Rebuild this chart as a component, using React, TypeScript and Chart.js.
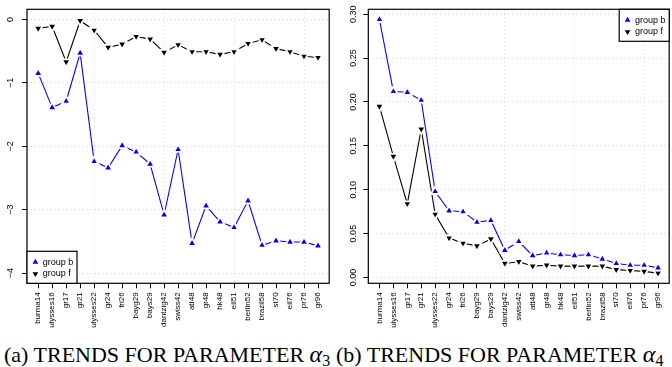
import React, { useEffect, useRef } from 'react';
import { Chart, registerables } from 'chart.js';

Chart.register(...registerables);

// ---------- data ----------
const categories = [
  'burma14', 'ulysses16', 'gr17', 'gr21', 'ulysses22', 'gr24', 'fri26', 'bayg29', 'bays29',
  'dantzig42', 'swiss42', 'att48', 'gr48', 'hk48', 'eil51', 'berlin52', 'brazil58', 'st70',
  'eil76', 'pr76', 'gr96',
];

const seriesNames = ['group b', 'group f'];

const alpha3GroupB = [
  -0.85, -1.39, -1.29, -0.53, -2.24, -2.34, -1.99, -2.09, -2.28, -3.08, -2.05,
  -3.53, -2.94, -3.19, -3.28, -2.86, -3.56, -3.49, -3.51, -3.51, -3.57,
];
const alpha3GroupF = [
  -0.14, -0.11, -0.67, -0.02, -0.17, -0.44, -0.39, -0.27, -0.31, -0.52, -0.40,
  -0.51, -0.51, -0.55, -0.51, -0.38, -0.32, -0.46, -0.51, -0.58, -0.60,
];

const alpha4GroupB = [
  0.294, 0.212, 0.211, 0.202, 0.098, 0.076, 0.075, 0.063, 0.065, 0.031, 0.041,
  0.025, 0.028, 0.026, 0.025, 0.026, 0.021, 0.016, 0.014, 0.014, 0.011,
];
const alpha4GroupF = [
  0.195, 0.138, 0.084, 0.169, 0.072, 0.045, 0.039, 0.036, 0.044, 0.016, 0.018,
  0.013, 0.014, 0.013, 0.013, 0.013, 0.013, 0.009, 0.008, 0.007, 0.005,
];

const alpha3TickValues = [-4, -3, -2, -1, 0];
const alpha3TickLabels = ['\u22124', '\u22123', '\u22122', '\u22121', '0'];
const alpha4TickValues = [0, 0.05, 0.1, 0.15, 0.2, 0.25, 0.3];
const alpha4TickLabels = ['0.00', '0.05', '0.10', '0.15', '0.20', '0.25', '0.30'];

const xGridIndices = [4, 9, 14, 19];

const alpha3Range = [-4.16, 0.16];
const alpha4Range = [-0.0066, 0.3056];
const xRange = [-0.8, 20.8];

// ---------- styles ----------
const SANS = "'Liberation Sans', Arial, sans-serif";
const SERIF = "'Liberation Serif', 'Times New Roman', serif";
const BLUE = '#0000ff';
const BLACK = '#000000';
const GRID = '#d3d3d3';
const CANVAS_H = 335;
const PLOT_TOP = 9.3;
const PLOT_BOTTOM = 283.3;

function triangle(ctx: CanvasRenderingContext2D, cx: number, cy: number, r: number, down: boolean) {
  const s = down ? -1 : 1;
  ctx.beginPath();
  ctx.moveTo(cx, cy - s * r);
  ctx.lineTo(cx + r * Math.sin(Math.PI / 3), cy + s * r * 0.5);
  ctx.lineTo(cx - r * Math.sin(Math.PI / 3), cy + s * r * 0.5);
  ctx.closePath();
  ctx.fill();
}

const boxPlugin = {
  id: 'plotBox',
  afterDraw(chart: any) {
    const { ctx, chartArea: a } = chart;
    ctx.save();
    ctx.strokeStyle = BLACK;
    ctx.lineWidth = 1.2;
    ctx.strokeRect(a.left, a.top, a.right - a.left, a.bottom - a.top);
    ctx.restore();
  },
};

function makeLegendPlugin(corner: 'bottomleft' | 'topright') {
  return {
    id: 'boxLegend',
    afterDraw(chart: any) {
      const { ctx, chartArea: a } = chart;
      const w = 50;
      const h = 32;
      const x0 = corner === 'bottomleft' ? a.left : a.right - w;
      const y0 = corner === 'bottomleft' ? a.bottom - h : a.top;
      ctx.save();
      ctx.fillStyle = '#ffffff';
      ctx.fillRect(x0, y0, w, h);
      ctx.strokeStyle = BLACK;
      ctx.lineWidth = 1.2;
      ctx.strokeRect(x0, y0, w, h);
      chart.data.datasets.forEach((ds: any, i: number) => {
        const cy = y0 + 10.8 + i * 11.7;
        ctx.fillStyle = ds.borderColor;
        triangle(ctx, x0 + 8.4, cy, 3.3, !!ds.pointRotation);
        ctx.fillStyle = BLACK;
        ctx.font = `9px ${SANS}`;
        ctx.textBaseline = 'middle';
        ctx.textAlign = 'left';
        ctx.fillText(ds.label, x0 + 15.7, cy);
      });
      ctx.restore();
    },
  };
}

type PanelProps = {
  left: number;
  width: number;
  groupB: number[];
  groupF: number[];
  yRange: number[];
  yTickValues: number[];
  yTickLabels: string[];
  yAxisWidth: number;
  yTickPadding: number;
  rightPad: number;
  legendCorner: 'bottomleft' | 'topright';
};

function Panel(p: PanelProps) {
  const ref = useRef<HTMLCanvasElement>(null);
  useEffect(() => {
    const mk = (vals: number[]) => vals.map((y, i) => ({ x: i, y }));
    const seriesStyle = (color: string) => ({
      borderColor: color,
      backgroundColor: color,
      borderWidth: 1.1,
      pointStyle: 'triangle',
      pointRadius: 5,
      pointBorderWidth: 1.8,
      pointBackgroundColor: color,
      pointBorderColor: '#ffffff',
      tension: 0,
      fill: false,
    });
    const chart = new Chart(ref.current as HTMLCanvasElement, {
      type: 'line',
      data: {
        datasets: [
          { label: seriesNames[0], data: mk(p.groupB), ...seriesStyle(BLUE) },
          { label: seriesNames[1], data: mk(p.groupF), ...seriesStyle(BLACK), pointRotation: 180 },
        ],
      },
      options: {
        animation: false,
        responsive: false,
        maintainAspectRatio: false,
        events: [],
        layout: { padding: { top: PLOT_TOP, right: p.rightPad, bottom: 0, left: 0 } },
        plugins: { legend: { display: false }, tooltip: { enabled: false }, title: { display: false } },
        scales: {
          x: {
            type: 'linear',
            position: 'bottom',
            min: xRange[0],
            max: xRange[1],
            afterBuildTicks: (s: any) => {
              s.ticks = categories.map((_, i) => ({ value: i }));
            },
            afterFit: (s: any) => {
              s.height = CANVAS_H - PLOT_BOTTOM;
              s.paddingLeft = 0;
              s.paddingRight = 0;
              s.paddingTop = 0;
              s.paddingBottom = 0;
            },
            ticks: {
              autoSkip: false,
              minRotation: 90,
              maxRotation: 90,
              padding: 4,
              color: BLACK,
              font: { family: SANS, size: 8 },
              callback: (v: any) => categories[Math.round(v)] ?? '',
            },
            grid: {
              color: (ctx: any) => (ctx.tick && xGridIndices.includes(ctx.tick.value) ? GRID : 'rgba(0,0,0,0)'),
              lineWidth: 1,
              tickLength: 5,
              tickColor: BLACK,
              tickWidth: 1,
              tickBorderDash: [],
              drawOnChartArea: true,
            },
            border: { display: false, dash: [1, 3] },
          },
          y: {
            type: 'linear',
            position: 'left',
            min: p.yRange[0],
            max: p.yRange[1],
            afterBuildTicks: (s: any) => {
              s.ticks = p.yTickValues.map((v) => ({ value: v }));
            },
            afterFit: (s: any) => {
              s.width = p.yAxisWidth;
              s.paddingLeft = 0;
              s.paddingRight = 0;
              s.paddingTop = 0;
              s.paddingBottom = 0;
            },
            ticks: {
              minRotation: 90,
              maxRotation: 90,
              crossAlign: 'center',
              padding: p.yTickPadding,
              color: BLACK,
              font: { family: SANS, size: 9 },
              callback: (v: any) => {
                const idx = p.yTickValues.findIndex((t) => Math.abs(t - v) < 1e-9);
                return idx >= 0 ? p.yTickLabels[idx] : '';
              },
            },
            grid: {
              color: GRID,
              lineWidth: 1,
              tickLength: 5,
              tickColor: BLACK,
              tickWidth: 1,
              tickBorderDash: [],
              drawOnChartArea: true,
            },
            border: { display: false, dash: [1, 3] },
          },
        },
      } as any,
      plugins: [boxPlugin, makeLegendPlugin(p.legendCorner)],
    } as any);
    return () => chart.destroy();
  }, []);
  return (
    <canvas
      ref={ref}
      width={p.width}
      height={CANVAS_H}
      style={{ position: 'absolute', left: p.left, top: 0, width: p.width, height: CANVAS_H }}
    />
  );
}

const captionStyle: React.CSSProperties = {
  position: 'absolute',
  top: 343,
  fontFamily: SERIF,
  fontSize: 22,
  lineHeight: '22px',
  whiteSpace: 'nowrap',
  color: '#000',
};

export default function App() {
  return (
    <div
      style={{
        position: 'fixed',
        left: 0,
        top: 0,
        width: 672,
        height: 367,
        overflow: 'hidden',
        background: '#ffffff',
      }}
    >
      <Panel
        left={0}
        width={336}
        groupB={alpha3GroupB}
        groupF={alpha3GroupF}
        yRange={alpha3Range}
        yTickValues={alpha3TickValues}
        yTickLabels={alpha3TickLabels}
        yAxisWidth={27}
        yTickPadding={5.9}
        rightPad={2.6}
        legendCorner="bottomleft"
      />
      <Panel
        left={336}
        width={340}
        groupB={alpha4GroupB}
        groupF={alpha4GroupF}
        yRange={alpha4Range}
        yTickValues={alpha4TickValues}
        yTickLabels={alpha4TickLabels}
        yAxisWidth={32.3}
        yTickPadding={1.2}
        rightPad={1.3}
        legendCorner="topright"
      />
      <div style={{ ...captionStyle, left: 4 }}>
        (a) TRENDS FOR PARAMETER <i style={{ fontSize: 24 }}>α</i>
        <span style={{ fontSize: 16, position: 'relative', top: 4 }}>3</span>
      </div>
      <div style={{ ...captionStyle, left: 336 }}>
        (b) TRENDS FOR PARAMETER <i style={{ fontSize: 24 }}>α</i>
        <span style={{ fontSize: 16, position: 'relative', top: 4 }}>4</span>
      </div>
    </div>
  );
}
